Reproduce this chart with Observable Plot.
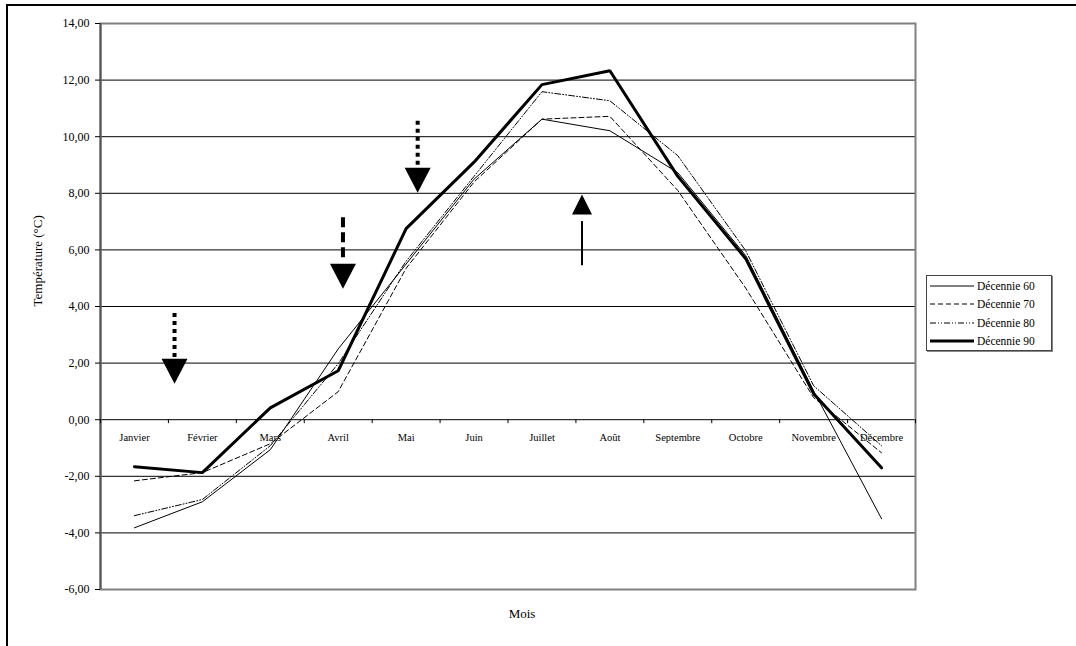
<!DOCTYPE html>
<html>
<head>
<meta charset="utf-8">
<script src="https://cdn.jsdelivr.net/npm/d3@7"></script>
<script src="https://cdn.jsdelivr.net/npm/@observablehq/plot@0.6"></script>
<style>
  html, body { margin: 0; padding: 0; background: #fff; }
  #wrap { position: relative; width: 1076px; height: 646px; overflow: hidden; font-family: "Liberation Serif", "Times New Roman", Times, serif; }
  #border { position: absolute; left: 6px; top: 4px; width: 1100px; height: 700px; border-left: 2px solid #000; border-top: 2px solid #000; }
  #chart { position: absolute; left: 0; top: 0; }
  #chart svg text { font-family: "Liberation Serif", "Times New Roman", Times, serif; }
  #legend { position: absolute; left: 926px; top: 275px; width: 124px; height: 74px; border: 1px solid #444; box-shadow: 1px 1px 0 #888; background: #fff; font-size: 11.5px; color: #000; }
  #legend .row { position: absolute; left: 3px; height: 19px; display: flex; align-items: center; }
  #legend svg { display: block; margin-right: 3px; }
</style>
</head>
<body>
<div id="wrap">
  <div id="border"></div>
  <div id="chart"></div>
  <div id="legend"></div>
</div>
<script>
// ---- Data ----
const months = ["Janvier","Février","Mars","Avril","Mai","Juin","Juillet","Août","Septembre","Octobre","Novembre","Décembre"];
const dec60 = [-3.82, -2.90, -1.06, 2.50, 5.50, 8.50, 10.62, 10.21, 8.73, 5.80, 1.02, -3.50];
const dec70 = [-2.16, -1.87, -0.85, 0.99, 5.35, 8.40, 10.62, 10.72, 8.10, 4.65, 0.78, -1.17];
const dec80 = [-3.39, -2.82, -0.92, 1.98, 5.60, 8.60, 11.59, 11.27, 9.33, 5.97, 1.20, -0.92];
const dec90 = [-1.66, -1.87, 0.42, 1.73, 6.75, 9.10, 11.84, 12.33, 8.60, 5.69, 0.92, -1.70];
const seriesNames = ["Décennie 60", "Décennie 70", "Décennie 80", "Décennie 90"];
const yTicks = [-6, -4, -2, 0, 2, 4, 6, 8, 10, 12, 14];

// annotation arrows (month-index position, shaft start/end, head centre)
const arrowX      = [0.59, 3.07, 4.17, 6.59];
const arrowShaftA = [3.75, 7.14, 10.55, 5.44];
const arrowShaftB = [2.20, 5.55, 8.90, 7.00];
const arrowHeadY  = [1.71, 5.07, 8.46, 7.60];
const arrowDir    = ["down", "down", "down", "up"];

// ---- Build tables ----
const allSeries = [dec60, dec70, dec80, dec90];
const lineData = allSeries.map((vals, s) => vals.map((v, i) => ({series: seriesNames[s], i, v})));
const monthData = months.map((m, i) => ({m, i}));
const boundaries = d3.range(-0.5, 12, 1);
const arrows = arrowX.map((x, k) => ({x, a: arrowShaftA[k], b: arrowShaftB[k], h: arrowHeadY[k], dir: arrowDir[k]}));

const styles = [
  {strokeWidth: 1, strokeDasharray: null},
  {strokeWidth: 1, strokeDasharray: "5,3"},
  {strokeWidth: 1, strokeDasharray: "6,2,1,2,1,2"},
  {strokeWidth: 3, strokeDasharray: null}
];
const shaftStyles = [
  {strokeWidth: 4, strokeDasharray: "4,4"},
  {strokeWidth: 4, strokeDasharray: "10,5"},
  {strokeWidth: 4, strokeDasharray: "4,4"},
  {strokeWidth: 2, strokeDasharray: null}
];

const downTri = {draw(ctx, size) { const a = Math.sqrt(size / Math.PI); const h = a * 0.96; ctx.moveTo(-a, -h); ctx.lineTo(a, -h); ctx.lineTo(0, h); ctx.closePath(); }};
const upTri = {draw(ctx, size) { const a = Math.sqrt(size / Math.PI); const h = a; ctx.moveTo(-a, h); ctx.lineTo(a, h); ctx.lineTo(0, -h); ctx.closePath(); }};

const fmt = d => d.toFixed(2).replace(".", ",");
const serif = "'Liberation Serif', 'Times New Roman', Times, serif";

const marks = [
  Plot.ruleY(yTicks, {stroke: "#000", strokeWidth: 1}),
  Plot.frame({stroke: "#808080", strokeWidth: 2}),
  Plot.ruleX([-0.5], {stroke: "#555", strokeWidth: 2}),
  Plot.ruleX(boundaries, {x: d => d, y1: 0, y2: -0.14, stroke: "#000", strokeWidth: 1}),
  Plot.axisY({ticks: yTicks, tickFormat: fmt, tickSize: 5, tickPadding: 6, fontSize: 12, label: null, stroke: "#000", fontFamily: serif}),
  Plot.text(monthData, {x: "i", y: () => 0, text: "m", dy: 18, fontSize: 10.5, fill: "#000", fontFamily: serif}),
  Plot.text(["Température (°C)"], {frameAnchor: "left", rotate: -90, dx: -63, fontSize: 13, fill: "#000", fontFamily: serif}),
  Plot.text(["Mois"], {frameAnchor: "bottom", dx: 14, dy: 28, fontSize: 13, fill: "#000", fontFamily: serif}),
  ...lineData.map((d, s) => Plot.line(d, {x: "i", y: "v", stroke: "#000", strokeWidth: styles[s].strokeWidth, strokeDasharray: styles[s].strokeDasharray, strokeLinejoin: "miter"})),
  ...arrows.map((d, k) => Plot.ruleX([d], {x: "x", y1: "a", y2: "b", stroke: "#000", strokeWidth: shaftStyles[k].strokeWidth, strokeDasharray: shaftStyles[k].strokeDasharray})),
  Plot.dot(arrows.filter(d => d.dir === "down"), {x: "x", y: "h", r: 13, symbol: downTri, fill: "#000", stroke: "none"}),
  Plot.dot(arrows.filter(d => d.dir === "up"), {x: "x", y: "h", r: 10, symbol: upTri, fill: "#000", stroke: "none"})
];

const chart = Plot.plot({
  width: 1076,
  height: 646,
  marginLeft: 100,
  marginRight: 161,
  marginTop: 23,
  marginBottom: 57,
  style: {fontFamily: serif, fontSize: "12px", color: "#000", background: "transparent"},
  x: {domain: [-0.5, 11.5], axis: null},
  y: {domain: [-6, 14], axis: null},
  marks
});
document.getElementById("chart").appendChild(chart);

// ---- Legend ----
const legend = document.getElementById("legend");
seriesNames.forEach((name, s) => {
  const row = document.createElement("div");
  row.className = "row";
  row.style.top = (s * 18.5 + 0) + "px";
  const svg = d3.create("svg").attr("width", 44).attr("height", 10);
  svg.append("line").attr("x1", 0).attr("x2", 44).attr("y1", 5).attr("y2", 5)
    .attr("stroke", "#000").attr("stroke-width", styles[s].strokeWidth)
    .attr("stroke-dasharray", styles[s].strokeDasharray);
  row.appendChild(svg.node());
  const span = document.createElement("span");
  span.textContent = name;
  row.appendChild(span);
  legend.appendChild(row);
});
</script>
</body>
</html>
